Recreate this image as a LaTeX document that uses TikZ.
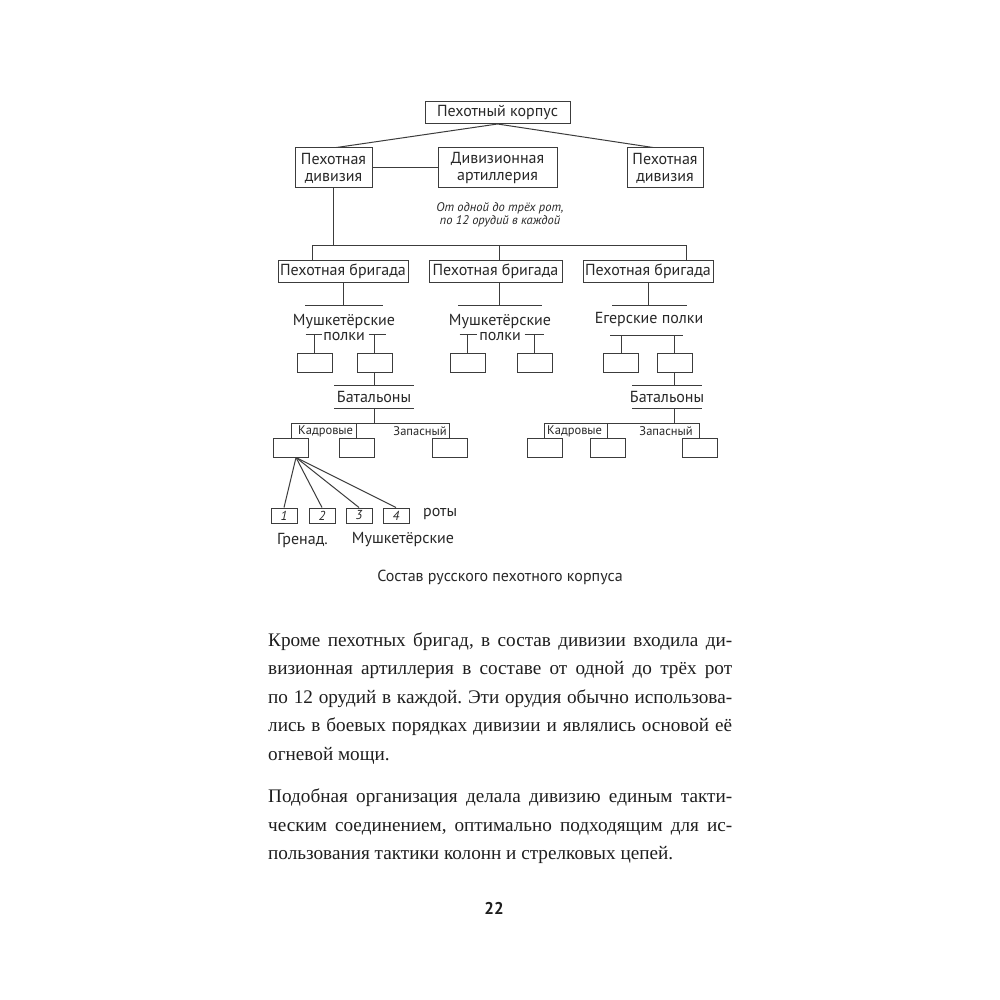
\documentclass[tikz,border=0pt]{standalone}
\usepackage{fontspec}
\setmainfont{Liberation Serif}
\newfontfamily\dsans{PT Sans}
\usetikzlibrary{calc}
\definecolor{tc}{RGB}{40,40,40}
\definecolor{lc}{RGB}{60,60,60}
\definecolor{bodyc}{RGB}{30,30,30}
\frenchspacing
\begin{document}
\begin{tikzpicture}[x=1pt,y=-1pt,
  ln/.style={draw=lc, line width=1pt},
  box/.style={draw=lc, line width=1pt, inner sep=0pt, text=tc, align=center,
    font=\dsans\fontsize{16}{17}\selectfont},
  sbox/.style={draw=lc, line width=1pt, inner sep=0pt, minimum width=35, minimum height=19},
  cbox/.style={draw=lc, line width=1pt, inner sep=0pt, minimum width=26, minimum height=15,
    text=tc, font=\dsans\itshape\fontsize{13}{13}\selectfont},
  lbl/.style={inner sep=0pt, text=tc, align=center, font=\dsans\fontsize{16}{15}\selectfont},
  slbl/.style={inner sep=0pt, text=tc, font=\dsans\fontsize{12.5}{13}\selectfont},
  note/.style={inner sep=0pt, text=tc, align=center, font=\dsans\itshape\fontsize{12.5}{12.5}\selectfont},
  bline/.style={anchor=base west, inner sep=0pt, text=bodyc, font=\fontsize{19.2}{21}\selectfont}
]
\fill[white] (0,0) rectangle (1000,1000);
\useasboundingbox (0,0) rectangle (1000,1000);

% top level
\node[box, minimum width=145, minimum height=22] (corp) at (497.5,112.5) {Пехотный корпус};
\node[box, minimum width=77, minimum height=40] (div1) at (333.5,168) {Пехотная\\дивизия};
\node[box, minimum width=119, minimum height=40] (art) at (497.5,168) {Дивизионная\\артиллерия};
\node[box, minimum width=76, minimum height=40] (div2) at (665,168) {Пехотная\\дивизия};
\node[note] (artnote) at (500,215) {От одной до трёх рот,\\по 12 орудий в каждой};

\draw[ln] (corp.south) -- ($(div1.north)+(3,0)$);
\draw[ln] (corp.south) -- ($(div2.north)+(-12,0)$);
\draw[ln] (div1.east) -- (art.west);

% brigades
\node[box, minimum width=130, minimum height=22] (br1) at (343,271) {Пехотная бригада};
\node[box, minimum width=133, minimum height=22] (br2) at (495.5,271) {Пехотная бригада};
\node[box, minimum width=130, minimum height=22] (br3) at (648,271) {Пехотная бригада};
\coordinate (bL) at (312,245);
\coordinate (bM) at (499,245);
\coordinate (bR) at (686,245);
\draw[ln] (div1.south) -- (div1.south |- bM);
\draw[ln] (bL) -- (bR);
\draw[ln] (bL) -- (bL |- br1.north);
\draw[ln] (bM) -- (bM |- br2.north);
\draw[ln] (bR) -- (bR |- br3.north);

% regiments, left
\draw[ln] (br1.south) -- ++(0,23);
\draw[ln] (305,305) -- (383,305);
\node[lbl] (reg1) at (344,327.5) {Мушкетёрские\\полки};
\node[sbox] (r1a) at (314.5,362.5) {};
\node[sbox] (r1b) at (374.5,362.5) {};
\draw[ln] (r1a.north) -- ++(0,-18) ++(-9,0) -- ++(16,0);
\draw[ln] (r1b.north) -- ++(0,-18) ++(-6,0) -- ++(17,0);

% regiments, middle
\draw[ln] (br2.south -| bM) -- ++(0,23);
\draw[ln] (458,305) -- (542,305);
\node[lbl] (reg2) at (500,327.5) {Мушкетёрские\\полки};
\node[sbox] (r2a) at (467.5,362.5) {};
\node[sbox] (r2b) at (534.5,362.5) {};
\draw[ln] (r2a.north) -- ++(0,-18) ++(-8,0) -- ++(17,0);
\draw[ln] (r2b.north) -- ++(0,-18) ++(-10,0) -- ++(19,0);

% regiments, right
\draw[ln] (br3.south) -- ++(0,23);
\draw[ln] (612,305) -- (687,305);
\node[lbl] (reg3) at (649,319) {Егерские полки};
\node[sbox] (r3a) at (621,362.5) {};
\node[sbox] (r3b) at (674.5,362.5) {};
\draw[ln] (610,335) -- (683,335);
\draw[ln] (r3a.north) -- ++(0,-18);
\draw[ln] (r3b.north) -- ++(0,-18);

% battalions, left
\draw[ln] (r1b.south) -- ++(0,13);
\draw[ln] (334,385) -- (414,385);
\node[lbl] (bat1) at (374,397) {Батальоны};
\draw[ln] (334,408) -- (414,408);
\coordinate (bb1) at (374.5,423);
\draw[ln] (bb1 |- 0,408) -- (bb1);
\node[sbox] (k1) at (291,447.5) {};
\node[sbox] (k2) at (356.5,447.5) {};
\node[sbox] (z1) at (449.5,447.5) {};
\draw[ln] (k1.north) -- (k1.north |- bb1) -- (z1.north |- bb1) -- (z1.north);
\draw[ln] (k2.north) -- (k2.north |- bb1);
\node[slbl, anchor=west] (kl1) at (298,431) {Кадровые};
\node[slbl, anchor=east] (zl1) at (447,431) {Запасный};

% battalions, right
\draw[ln] (r3b.south) -- ++(0,13);
\draw[ln] (632,385) -- (702,385);
\node[lbl] (bat2) at (667,397) {Батальоны};
\draw[ln] (632,408) -- (702,408);
\coordinate (bb2) at (674.5,423);
\draw[ln] (bb2 |- 0,408) -- (bb2);
\node[sbox] (k3) at (544.5,447.5) {};
\node[sbox] (k4) at (607.5,447.5) {};
\node[sbox] (z2) at (699.5,447.5) {};
\draw[ln] (k3.north) -- (k3.north |- bb2) -- (z2.north |- bb2) -- (z2.north);
\draw[ln] (k4.north) -- (k4.north |- bb2);
\node[slbl, anchor=west] (kl2) at (547,431) {Кадровые};
\node[slbl, anchor=east] (zl2) at (693,431) {Запасный};

% companies
\node[cbox] (c1) at (284,515.5) {1};
\node[cbox] (c2) at (322,515.5) {2};
\node[cbox] (c3) at (359,515.5) {3};
\node[cbox] (c4) at (396,515.5) {4};
\coordinate (fan) at ($(k1.south)+(5,0)$);
\foreach \c in {c1,c2,c3,c4} \draw[ln] (fan) -- (\c.north);
\node[lbl, anchor=west] (roty) at (423,514) {роты};
\node[lbl] (gren) at (302.5,540) {Гренад.};
\node[lbl] (mush) at (403,540) {Мушкетёрские};

% caption
\node[lbl] (cap) at (500,577) {Состав русского пехотного корпуса};

% body text
\node[bline] (t1) at (268,646) {\makebox[464pt][s]{Кроме пехотных бригад, в состав дивизии входила ди-}};
\node[bline] (t2) at (268,674.5) {\makebox[464pt][s]{визионная артиллерия в составе от одной до трёх рот}};
\node[bline] (t3) at (268,703) {\makebox[464pt][s]{по 12 орудий в каждой. Эти орудия обычно использова-}};
\node[bline] (t4) at (268,731.5) {\makebox[464pt][s]{лись в боевых порядках дивизии и являлись основой её}};
\node[bline] (t5) at (268,760) {огневой мощи.};
\node[bline] (t6) at (268,802.5) {\makebox[464pt][s]{Подобная организация делала дивизию единым такти-}};
\node[bline] (t7) at (268,831) {\makebox[464pt][s]{ческим соединением, оптимально подходящим для ис-}};
\node[bline] (t8) at (268,859.5) {пользования тактики колонн и стрелковых цепей.};

% page number
\node[inner sep=0pt, text=bodyc, font=\dsans\bfseries\fontsize{17}{17}\selectfont] (pg) at (494,908) {22};
\end{tikzpicture}
\end{document}
